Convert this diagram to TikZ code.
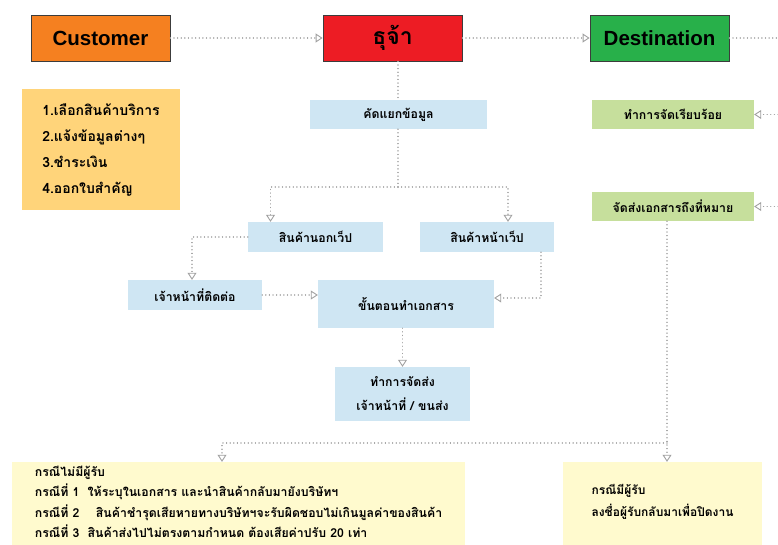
\documentclass[tikz,border=0pt]{standalone}
\usepackage{fontspec}
\setmainfont{Liberation Sans}
\newfontfamily\thaifont[Script=Thai]{Loma}
\usetikzlibrary{arrows.meta,calc}
\definecolor{custorange}{RGB}{245,128,32}
\definecolor{dhured}{RGB}{237,28,36}
\definecolor{destgreen}{RGB}{40,176,74}
\definecolor{listorange}{RGB}{255,212,122}
\definecolor{lblue}{RGB}{207,230,243}
\definecolor{lgreen}{RGB}{198,223,156}
\definecolor{lyellow}{RGB}{255,250,206}
\definecolor{conngray}{RGB}{160,160,160}
\definecolor{borderdark}{RGB}{60,60,60}
\tikzset{
  headbox/.style={draw=borderdark, line width=0.8pt, minimum width=139, minimum height=46, inner sep=0pt, font=\fontsize{20.5}{22}\selectfont\bfseries},
  bluebox/.style={fill=lblue, inner sep=0pt, font=\thaifont\bfseries\fontsize{12.3}{14}\selectfont},
  greenbox/.style={fill=lgreen, inner sep=0pt, font=\thaifont\bfseries\fontsize{12.3}{14}\selectfont},
  notebox/.style={fill=lyellow, inner sep=0pt, align=left, font=\thaifont\bfseries\fontsize{12.3}{20.5}\selectfont},
  conn/.style={draw=conngray, line width=1.4pt, dash pattern=on 0.01pt off 3.6pt, line cap=round},
  arr/.style={conn, -{Triangle[open, length=7pt, width=9pt, line width=0.9pt]}},
}
\begin{document}
\begin{tikzpicture}[x=1pt,y=-1pt]
\useasboundingbox (0,0) rectangle (778,545);
% header boxes
\node[headbox, fill=custorange] (cust) at (100.5,38) {Customer};
\node[headbox, fill=dhured, font=\thaifont\bfseries\fontsize{23}{24}\selectfont] (dhu) at (392.5,38) {ธุจ้า};
\node[headbox, fill=destgreen] (dest) at (659.5,38) {Destination};
% list box
\node[fill=listorange, minimum width=158, minimum height=121, inner sep=0pt, align=left,
      font=\thaifont\bfseries\fontsize{14}{26}\selectfont] (list) at (101,150)
  {1.เลือกสินค้าบริการ\\2.แจ้งข้อมูลต่างๆ\\3.ชำระเงิน\\4.ออกใบสำคัญ};
% blue boxes
\node[bluebox, minimum width=177, minimum height=29] (kad) at (398.5,114.5) {คัดแยกข้อมูล};
\node[bluebox, minimum width=135, minimum height=30] (nok) at (315.5,237) {สินค้านอกเว็ป};
\node[bluebox, minimum width=134, minimum height=30] (na) at (487,237) {สินค้าหน้าเว็ป};
\node[bluebox, minimum width=134, minimum height=30] (jao) at (195,295) {เจ้าหน้าที่ติดต่อ};
\node[bluebox, minimum width=176, minimum height=48] (kan) at (406,304) {ขั้นตอนทำเอกสาร};
\node[bluebox, minimum width=135, minimum height=54, align=center, font=\thaifont\bfseries\fontsize{12.3}{24}\selectfont] (song) at (402.5,394) {ทำการจัดส่ง\\เจ้าหน้าที่ / ขนส่ง};
% green boxes
\node[greenbox, minimum width=162, minimum height=29] (rieb) at (673,114.5) {ทำการจัดเรียบร้อย};
\node[greenbox, minimum width=162, minimum height=29] (jadsong) at (673,206.5) {จัดส่งเอกสารถึงที่หมาย};
% bottom note boxes
\node[notebox, minimum width=453, minimum height=80] (nomi) at (238.5,502)
  {กรณีไม่มีผู้รับ\\กรณีที่ 1\ \ ให้ระบุในเอกสาร และนำสินค้ากลับมายังบริษัทฯ\\กรณีที่ 2\ \ \ \ สินค้าชำรุดเสียหายทางบริษัทฯจะรับผิดชอบไม่เกินมูลค่าของสินค้า\\กรณีที่ 3\ \ สินค้าส่งไปไม่ตรงตามกำหนด ต้องเสียค่าปรับ 20 เท่า};
\node[notebox, minimum width=199, minimum height=80, font=\thaifont\bfseries\fontsize{12}{22.5}\selectfont] (mi) at (662.5,502)
  {กรณีมีผู้รับ\\ลงชื่อผู้รับกลับมาเพื่อปิดงาน};
\fill[lyellow] (nomi.south west) rectangle ([yshift=-10]nomi.south east);
\fill[lyellow] (mi.south west) rectangle ([yshift=-10]mi.south east);
% coordinates
\coordinate (edgetop) at (778,38);
\coordinate (edgerieb) at (778,114.5);
\coordinate (edgejad) at (778,206.5);
\coordinate (split) at (398,187);
\coordinate (junc) at (667,443);
% connectors
\draw[arr] (cust.east) -- (dhu.west);
\draw[arr] (dhu.east) -- (dest.west);
\draw[conn] (dest.east) -- (edgetop);
\draw[arr] (edgerieb) -- (rieb.east);
\draw[arr] (edgejad) -- (jadsong.east);
\draw[conn] (dhu.south -| split) -- (kad.north -| split);
\draw[conn] (kad.south -| split) -- (split);
\draw[arr] (split) -| ([xshift=-45]nok.north);
\draw[arr] (split) -| ([xshift=21]na.north);
\draw[arr] (nok.west) -| ([xshift=-3]jao.north);
\draw[arr] (jao.east) -- (jao.east -| kan.west);
\draw[arr] ([xshift=54]na.south) |- ([yshift=6]kan.east);
\draw[arr] (kan.south -| song.north) -- (song.north);
\draw[arr] ([xshift=-6]jadsong.south) -- ([xshift=-6]jadsong.south |- mi.north);
\draw[arr] (junc) -| ([xshift=-16.5]nomi.north);
\end{tikzpicture}
\end{document}
